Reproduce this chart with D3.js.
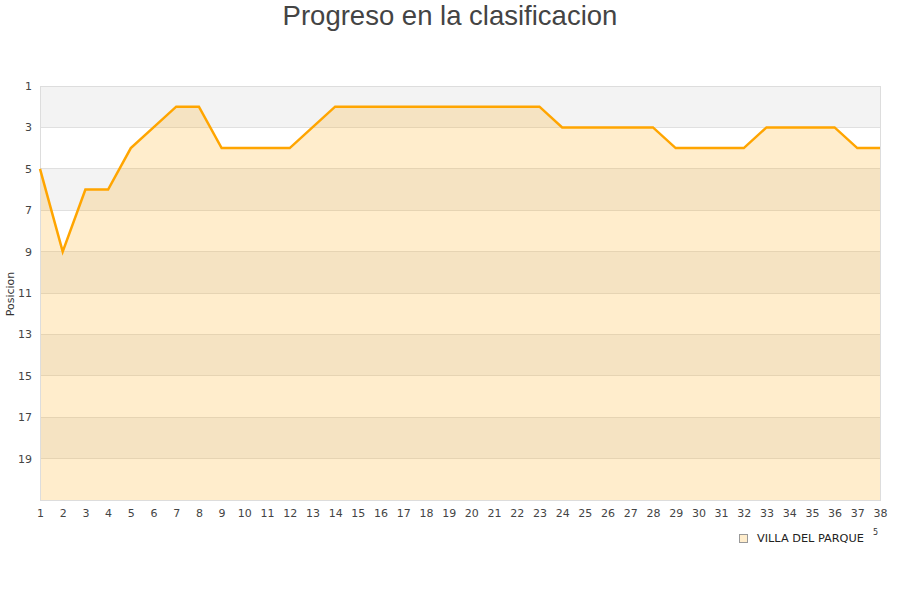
<!DOCTYPE html>
<html><head><meta charset="utf-8">
<script src="https://cdn.jsdelivr.net/npm/d3@7"></script>
<style>body{margin:0;background:#fff}</style>
</head><body>
<svg id="c" width="900" height="600"></svg>
<script>
const title = "Progreso en la clasificacion";
const seriesName = "VILLA DEL PARQUE";
const rounds = d3.range(1, 39);
const positions = [5,9,6,6,4,3,2,2,4,4,4,4,3,2,2,2,2,2,2,2,2,2,2,3,3,3,3,3,4,4,4,4,3,3,3,3,4,4];
const yTicks = [1,3,5,7,9,11,13,15,17,19];
const bands = [[1,3],[5,7],[9,11],[13,15],[17,19]];

const svg = d3.select("#c");
const m = {l:40, r:880, t:86, b:500};
const x = d3.scaleLinear().domain([1,38]).range([m.l, m.r]);
const y = d3.scaleLinear().domain([1,21]).range([m.t, m.b]);

svg.append("text").attr("x",450).attr("y",25).attr("text-anchor","middle")
  .attr("font-family","Liberation Sans, Arial, sans-serif").attr("font-size",27.5)
  .attr("fill","#444").text(title);

svg.selectAll("rect.band").data(bands).enter().append("rect")
  .attr("x",m.l).attr("width",m.r-m.l)
  .attr("y",d=>y(d[0])).attr("height",d=>y(d[1])-y(d[0]))
  .attr("fill","#f3f3f3");

svg.selectAll("line.grid").data(yTicks.slice(1)).enter().append("line")
  .attr("x1",m.l).attr("x2",m.r).attr("y1",d=>y(d)).attr("y2",d=>y(d))
  .attr("stroke","#e0e0e0").attr("stroke-width",1).attr("shape-rendering","crispEdges");

const data = rounds.map((r,i)=>({r, p:positions[i]}));
svg.append("path").datum(data)
  .attr("d", d3.area().x(d=>x(d.r)).y0(m.b).y1(d=>y(d.p)))
  .attr("fill","rgba(255,165,0,0.2)");

svg.append("rect").attr("x",m.l).attr("y",m.t).attr("width",m.r-m.l).attr("height",m.b-m.t)
  .attr("fill","none").attr("stroke","#dddddd").attr("shape-rendering","crispEdges");

svg.append("path").datum(data)
  .attr("d", d3.line().x(d=>x(d.r)).y(d=>y(d.p)))
  .attr("fill","none").attr("stroke","#ffa500").attr("stroke-width",2.5);

const font = "DejaVu Sans, Verdana, sans-serif";
const yAxis = svg.append("g").attr("transform",`translate(${m.l},0)`)
  .call(d3.axisLeft(y).tickValues(yTicks).tickSize(0).tickPadding(8));
const xAxis = svg.append("g").attr("transform",`translate(0,${m.b})`)
  .call(d3.axisBottom(x).tickValues(rounds).tickSize(0).tickPadding(9));
[yAxis,xAxis].forEach(a=>{
  a.select(".domain").remove();
  a.selectAll("text").attr("font-family",font).attr("font-size",11).attr("fill","#444");
});

svg.append("text").attr("transform","translate(14,294) rotate(-90)")
  .attr("text-anchor","middle").attr("font-family",font).attr("font-size",11)
  .attr("fill","#333").text("Posicion");

svg.append("rect").attr("x",739.5).attr("y",534.5).attr("width",8).attr("height",8)
  .attr("fill","#ffedcc").attr("stroke","#999");
svg.append("text").attr("x",757).attr("y",542).attr("font-family",font).attr("font-size",11.3)
  .attr("fill","#222").text(seriesName);
svg.append("text").attr("x",873).attr("y",535).attr("font-family",font).attr("font-size",8)
  .attr("fill","#333").text("5");
</script>
</body></html>
